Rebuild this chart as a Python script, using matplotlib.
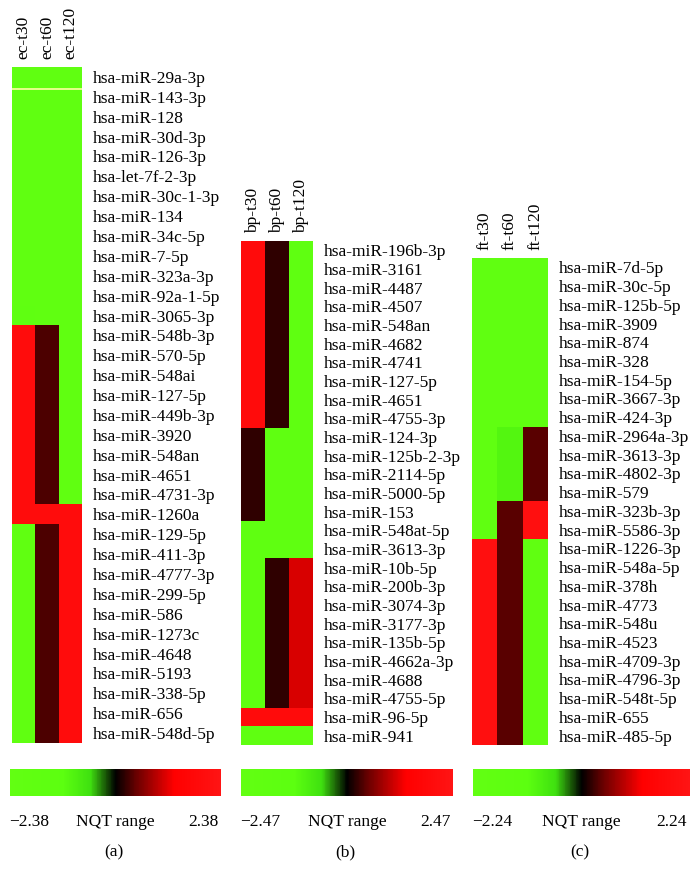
import numpy as np
import matplotlib
matplotlib.use("Agg")
import matplotlib.pyplot as plt
from matplotlib.colors import LinearSegmentedColormap

plt.rcParams['font.family'] = ['Liberation Serif', 'DejaVu Serif']
plt.rcParams['font.size'] = 12.5

# ---- data (NQT values) ----
a_cols = ['ec-t30', 'ec-t60', 'ec-t120']
a_rows = ['hsa-miR-29a-3p', 'hsa-miR-143-3p', 'hsa-miR-128', 'hsa-miR-30d-3p',
          'hsa-miR-126-3p', 'hsa-let-7f-2-3p', 'hsa-miR-30c-1-3p', 'hsa-miR-134',
          'hsa-miR-34c-5p', 'hsa-miR-7-5p', 'hsa-miR-323a-3p', 'hsa-miR-92a-1-5p',
          'hsa-miR-3065-3p', 'hsa-miR-548b-3p', 'hsa-miR-570-5p', 'hsa-miR-548ai',
          'hsa-miR-127-5p', 'hsa-miR-449b-3p', 'hsa-miR-3920', 'hsa-miR-548an',
          'hsa-miR-4651', 'hsa-miR-4731-3p', 'hsa-miR-1260a', 'hsa-miR-129-5p',
          'hsa-miR-411-3p', 'hsa-miR-4777-3p', 'hsa-miR-299-5p', 'hsa-miR-586',
          'hsa-miR-1273c', 'hsa-miR-4648', 'hsa-miR-5193', 'hsa-miR-338-5p',
          'hsa-miR-656', 'hsa-miR-548d-5p']
a_t30 = [-2.0, -2.0, -2.0, -2.0, -2.0, -2.0, -2.0, -2.0, -2.0, -2.0, -2.0, -2.0, -1.9,
         2.0, 2.0, 2.0, 2.0, 2.0, 2.0, 2.0, 2.0, 2.0,
         2.0,
         -2.0, -2.0, -2.0, -2.0, -2.0, -2.0, -2.0, -2.0, -2.0, -2.0, -2.0]
a_t60 = [-2.0, -2.0, -2.0, -2.0, -2.0, -2.0, -2.0, -2.0, -2.0, -2.0, -2.0, -2.0, -2.0,
         0.34, 0.34, 0.34, 0.34, 0.34, 0.34, 0.34, 0.34, 0.34,
         2.0,
         0.34, 0.34, 0.34, 0.34, 0.34, 0.34, 0.34, 0.34, 0.34, 0.34, 0.34]
a_t120 = [-2.0, -2.0, -2.0, -2.0, -2.0, -2.0, -2.0, -2.0, -2.0, -2.0, -2.0, -2.0, -2.0,
          -2.0, -2.0, -2.0, -2.0, -2.0, -2.0, -2.0, -2.0, -2.0,
          2.0,
          2.0, 2.0, 2.0, 2.0, 2.0, 2.0, 2.0, 2.0, 2.0, 2.0, 2.0]
a_range = 2.38

b_cols = ['bp-t30', 'bp-t60', 'bp-t120']
b_rows = ['hsa-miR-196b-3p', 'hsa-miR-3161', 'hsa-miR-4487', 'hsa-miR-4507',
          'hsa-miR-548an', 'hsa-miR-4682', 'hsa-miR-4741', 'hsa-miR-127-5p',
          'hsa-miR-4651', 'hsa-miR-4755-3p', 'hsa-miR-124-3p', 'hsa-miR-125b-2-3p',
          'hsa-miR-2114-5p', 'hsa-miR-5000-5p', 'hsa-miR-153', 'hsa-miR-548at-5p',
          'hsa-miR-3613-3p', 'hsa-miR-10b-5p', 'hsa-miR-200b-3p', 'hsa-miR-3074-3p',
          'hsa-miR-3177-3p', 'hsa-miR-135b-5p', 'hsa-miR-4662a-3p', 'hsa-miR-4688',
          'hsa-miR-4755-5p', 'hsa-miR-96-5p', 'hsa-miR-941']
b_t30 = [2.0, 2.0, 2.0, 2.0, 2.0, 2.0, 2.0, 2.0, 2.0, 2.0,
         0.22, 0.22, 0.22, 0.22, 0.22,
         -2.0, -2.0,
         -2.0, -2.0, -2.0, -2.0, -2.0, -2.0, -2.0, -2.0,
         2.0, -2.0]
b_t60 = [0.22, 0.22, 0.22, 0.22, 0.22, 0.22, 0.22, 0.22, 0.22, 0.22,
         -2.0, -2.0, -2.0, -2.0, -2.0,
         -2.0, -2.0,
         0.22, 0.22, 0.22, 0.22, 0.22, 0.22, 0.22, 0.22,
         2.0, -2.0]
b_t120 = [-2.0, -2.0, -2.0, -2.0, -2.0, -2.0, -2.0, -2.0, -2.0, -2.0,
          -2.0, -2.0, -2.0, -2.0, -2.0,
          -2.0, -2.0,
          1.15, 1.15, 1.15, 1.15, 1.15, 1.15, 1.15, 1.15,
          2.0, -2.0]
b_range = 2.47

c_cols = ['ft-t30', 'ft-t60', 'ft-t120']
c_rows = ['hsa-miR-7d-5p', 'hsa-miR-30c-5p', 'hsa-miR-125b-5p', 'hsa-miR-3909',
          'hsa-miR-874', 'hsa-miR-328', 'hsa-miR-154-5p', 'hsa-miR-3667-3p',
          'hsa-miR-424-3p', 'hsa-miR-2964a-3p', 'hsa-miR-3613-3p', 'hsa-miR-4802-3p',
          'hsa-miR-579', 'hsa-miR-323b-3p', 'hsa-miR-5586-3p', 'hsa-miR-1226-3p',
          'hsa-miR-548a-5p', 'hsa-miR-378h', 'hsa-miR-4773', 'hsa-miR-548u',
          'hsa-miR-4523', 'hsa-miR-4709-3p', 'hsa-miR-4796-3p', 'hsa-miR-548t-5p',
          'hsa-miR-655', 'hsa-miR-485-5p']
c_t30 = [-2.0, -2.0, -2.0, -2.0, -2.0, -2.0, -2.0, -2.0, -2.0,
         -2.0, -2.0, -2.0, -2.0,
         -2.0, -2.0,
         2.0, 2.0, 2.0, 2.0, 2.0, 2.0, 2.0, 2.0, 2.0, 2.0, 2.0]
c_t60 = [-2.0, -2.0, -2.0, -2.0, -2.0, -2.0, -2.0, -2.0, -2.0,
         -0.95, -0.95, -0.95, -0.95,
         0.38, 0.38,
         0.38, 0.38, 0.38, 0.38, 0.38, 0.38, 0.38, 0.38, 0.38, 0.38, 0.38]
c_t120 = [-2.0, -2.0, -2.0, -2.0, -2.0, -2.0, -2.0, -2.0, -2.0,
          0.38, 0.38, 0.38, 0.38,
          2.0, 2.0,
          -2.0, -2.0, -2.0, -2.0, -2.0, -2.0, -2.0, -2.0, -2.0, -2.0, -2.0]
c_range = 2.24

panel_tags = ['(a)', '(b)', '(c)']

# green -> black -> red
cmap = LinearSegmentedColormap.from_list('nqt', [
    (0.0, '#62ff12'), (0.25, '#5cff10'), (0.38, '#3fe010'),
    (0.5, '#000000'), (0.6, '#6a0000'), (0.78, '#ff0000'), (1.0, '#ff1414')])

W, H = 697, 884
fig = plt.figure(figsize=(W / 100, H / 100), dpi=100)


def px(l, t, r, b):
    return [l / W, 1 - b / H, (r - l) / W, (b - t) / H]


def heat(box, cols, rows, values, rng):
    ax = fig.add_axes(px(*box))
    z = np.column_stack(values)
    im = ax.imshow(z, cmap=cmap, vmin=-rng, vmax=rng, aspect='auto',
                   interpolation='nearest')
    ax.xaxis.tick_top()
    ax.set_xticks(range(len(cols)))
    ax.set_xticklabels(cols, rotation=90)
    ax.yaxis.tick_right()
    ax.set_yticks(range(len(rows)))
    ax.set_yticklabels(rows)
    ax.tick_params(axis='x', length=0, pad=6)
    ax.tick_params(axis='y', length=0, pad=8)
    for s in ax.spines.values():
        s.set_visible(False)
    return ax, im


def bar(box, im, rng, tag):
    cax = fig.add_axes(px(*box))
    cb = fig.colorbar(im, cax=cax, orientation='horizontal')
    cb.outline.set_visible(False)
    cax.set_xticks([])
    cax.text(0.09, -0.95, '\u2212%.2f' % rng, transform=cax.transAxes,
             ha='center', va='center')
    cax.text(0.5, -0.95, 'NQT range', transform=cax.transAxes,
             ha='center', va='center')
    cax.text(0.915, -0.95, '%.2f' % rng, transform=cax.transAxes,
             ha='center', va='center')
    cax.text(0.49, -2.1, tag, transform=cax.transAxes, ha='center', va='center')


ax_a, im_a = heat((12, 67, 82, 743), a_cols, a_rows, [a_t30, a_t60, a_t120], a_range)
ax_a.axhline(0.6, color='#ffffa0', lw=1.2)
ax_b, im_b = heat((241, 241, 313, 745), b_cols, b_rows, [b_t30, b_t60, b_t120], b_range)
ax_c, im_c = heat((472, 258, 548, 745), c_cols, c_rows, [c_t30, c_t60, c_t120], c_range)

bar((10, 769, 221, 796), im_a, a_range, panel_tags[0])
bar((241, 769, 453, 796), im_b, b_range, panel_tags[1])
bar((473, 769, 690, 796), im_c, c_range, panel_tags[2])

fig.savefig('out.png', dpi=100)
